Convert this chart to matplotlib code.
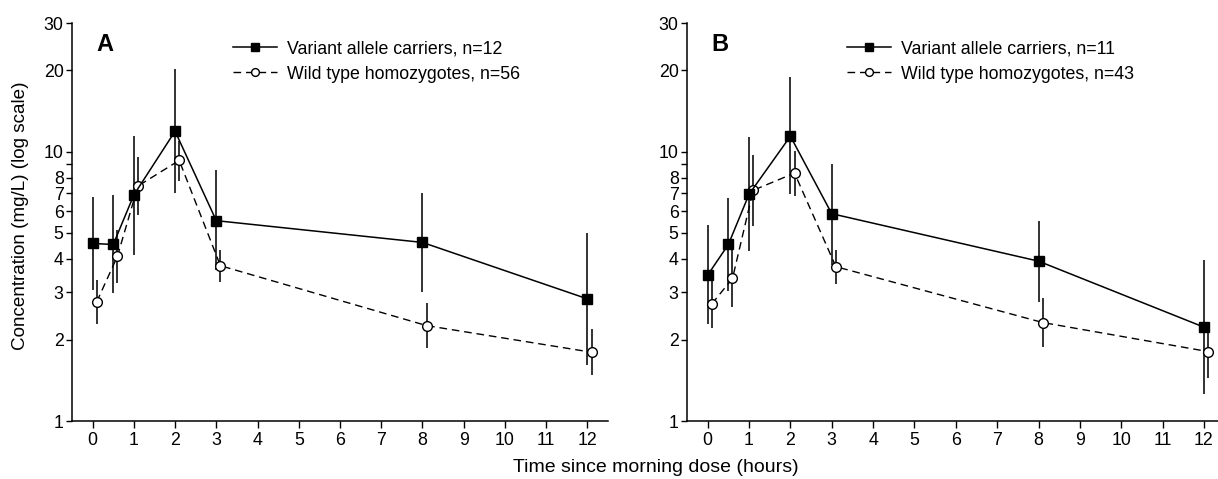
import matplotlib
matplotlib.use("Agg")
import matplotlib.pyplot as plt
import numpy as np
from matplotlib.ticker import FixedLocator, NullFormatter, FixedFormatter

plt.rcParams['font.family'] = ['Liberation Sans', 'DejaVu Sans']

# ---- data ----
t_var = [0, 0.5, 1, 2, 3, 8, 12]
t_wt = [0.1, 0.6, 1.1, 2.1, 3.1, 8.1, 12.1]

# Panel A
a_var = [4.56, 4.52, 6.90, 11.9, 5.54, 4.60, 2.84]
a_var_lo = [3.06, 2.98, 4.13, 7.0, 3.63, 3.02, 1.62]
a_var_hi = [6.80, 6.88, 11.4, 20.2, 8.54, 7.03, 4.97]
a_wt = [2.77, 4.08, 7.45, 9.27, 3.77, 2.26, 1.80]
a_wt_lo = [2.30, 3.26, 5.81, 7.77, 3.29, 1.87, 1.48]
a_wt_hi = [3.34, 5.11, 9.51, 10.9, 4.31, 2.73, 2.19]

# Panel B
b_var = [3.48, 4.52, 6.94, 11.4, 5.88, 3.92, 2.23]
b_var_lo = [2.29, 3.04, 4.29, 6.94, 3.80, 2.77, 1.26]
b_var_hi = [5.34, 6.70, 11.35, 18.95, 8.99, 5.54, 3.96]
b_wt = [2.72, 3.38, 7.18, 8.32, 3.74, 2.32, 1.81]
b_wt_lo = [2.21, 2.65, 5.29, 6.84, 3.22, 1.88, 1.45]
b_wt_hi = [3.30, 4.31, 9.70, 10.04, 4.31, 2.87, 2.18]

x_ticks = list(range(0, 13))
y_major = [1, 2, 3, 4, 5, 6, 7, 8, 10, 20, 30]
y_labels = ['1', '2', '3', '4', '5', '6', '7', '8', '10', '20', '30']
y_minor = [9]

labels_A = ['Variant allele carriers, n=12', 'Wild type homozygotes, n=56']
labels_B = ['Variant allele carriers, n=11', 'Wild type homozygotes, n=43']

W, H = 1218, 479
fig = plt.figure(figsize=(W / 100, H / 100), dpi=100)

def px(x0, y_top, w, h):
    return [x0 / W, 1 - (y_top + h) / H, w / W, h / H]

axA = fig.add_axes(px(72, 23, 536, 398))
axB = fig.add_axes(px(687, 23, 531, 398))

FS = 12.8

def draw(ax, var, vlo, vhi, wt, wlo, whi, labels, letter, xmax, leg_x):
    ax.set_yscale('log')
    evar = [np.array(var) - np.array(vlo), np.array(vhi) - np.array(var)]
    ewt = [np.array(wt) - np.array(wlo), np.array(whi) - np.array(wt)]
    ax.errorbar(t_var, var, yerr=evar, fmt='none', ecolor='#222222',
                elinewidth=1.3, capsize=0, zorder=2)
    ax.errorbar(t_wt, wt, yerr=ewt, fmt='none', ecolor='#222222',
                elinewidth=1.3, capsize=0, zorder=2)
    l1, = ax.plot(t_var, var, '-', color='black', lw=1.1, marker='s',
                  ms=6.5, mfc='black', mec='black', zorder=4, label=labels[0])
    l2, = ax.plot(t_wt, wt, '--', color='black', lw=1.0, dashes=(5.5, 3.5),
                  marker='o', ms=7, mfc='white', mec='black', mew=1.0,
                  zorder=3, label=labels[1])
    ax.set_xlim(-0.5, xmax)
    ax.set_ylim(1, 30)
    ax.yaxis.set_major_locator(FixedLocator(y_major))
    ax.yaxis.set_major_formatter(FixedFormatter(y_labels))
    ax.yaxis.set_minor_locator(FixedLocator(y_minor))
    ax.yaxis.set_minor_formatter(NullFormatter())
    ax.set_xticks(x_ticks)
    ax.spines['top'].set_visible(False)
    ax.spines['right'].set_visible(False)
    for s in ('left', 'bottom'):
        ax.spines[s].set_linewidth(1.1)
    ax.tick_params(axis='x', which='both', direction='out', length=5,
                   width=1.0, labelsize=FS, pad=3)
    ax.tick_params(axis='y', which='both', direction='out', length=4,
                   width=1.0, labelsize=FS, pad=2)
    ax.text(0.046, 0.975, letter, transform=ax.transAxes, fontsize=17,
            fontweight='bold', va='top', ha='left')
    ax.legend(handles=[l1, l2], loc='upper left',
              bbox_to_anchor=(leg_x, 0.956), frameon=False,
              fontsize=FS, handlelength=2.47, handletextpad=0.56,
              markerscale=0.8, labelspacing=0.45, borderaxespad=0,
              borderpad=0)

draw(axA, a_var, a_var_lo, a_var_hi, a_wt, a_wt_lo, a_wt_hi, labels_A,
     'A', 12.5, (233 - 72) / 536)
draw(axB, b_var, b_var_lo, b_var_hi, b_wt, b_wt_lo, b_wt_hi, labels_B,
     'B', 12.34, (847 - 687) / 531)

fig.text(21 / W, 1 - 216 / H, 'Concentration (mg/L) (log scale)',
         rotation=90, ha='center', va='center', fontsize=13.6)
fig.text(656 / W, 1 - 468 / H, 'Time since morning dose (hours)',
         ha='center', va='center', fontsize=14)

fig.savefig('out.png', dpi=100)
